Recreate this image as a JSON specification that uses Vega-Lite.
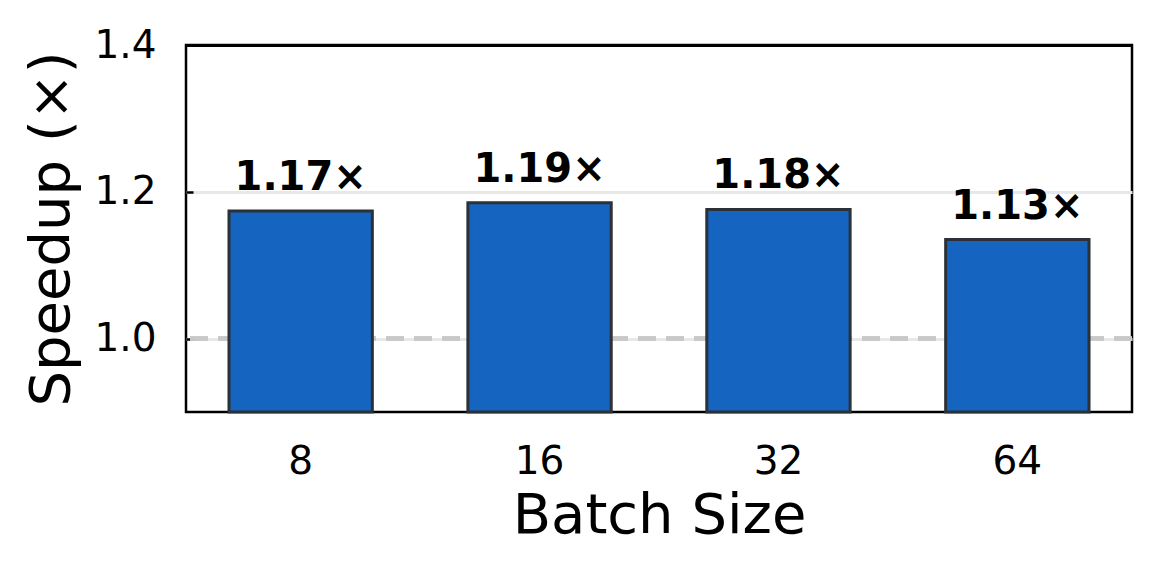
{
  "$schema": "https://vega.github.io/schema/vega-lite/v6.json",
  "width": 946,
  "height": 367,
  "autosize": "none",
  "padding": {"left": 186, "top": 45, "right": 29, "bottom": 163},
  "background": "white",
  "config": {
    "font": "DejaVu Sans",
    "view": {"stroke": "#000000", "strokeWidth": 2.5}
  },
  "data": {
    "values": [
      {"batch": "8", "speedup": 1.174, "label": "1.17×"},
      {"batch": "16", "speedup": 1.185, "label": "1.19×"},
      {"batch": "32", "speedup": 1.176, "label": "1.18×"},
      {"batch": "64", "speedup": 1.135, "label": "1.13×"}
    ]
  },
  "encoding": {
    "x": {
      "field": "batch",
      "type": "nominal",
      "sort": null,
      "scale": {"paddingInner": 0.4, "paddingOuter": 0.18},
      "axis": {
        "title": "Batch Size",
        "titleFontSize": 56,
        "titleFontWeight": "normal",
        "titleColor": "#000",
        "titlePadding": 7,
        "labelAngle": 0,
        "labelFontSize": 39,
        "labelColor": "#000",
        "labelPadding": 30,
        "ticks": false,
        "domain": false
      }
    }
  },
  "layer": [
    {
      "mark": {"type": "rule", "color": "#c8c8c8", "strokeWidth": 4, "strokeDash": [18, 10]},
      "encoding": {
        "x": null,
        "y": {"datum": 1.0, "type": "quantitative"}
      }
    },
    {
      "mark": {"type": "bar", "fill": "#1565c0", "stroke": "#2b3136", "strokeWidth": 3},
      "encoding": {
        "y": {
          "field": "speedup",
          "type": "quantitative",
          "scale": {"domain": [0.9, 1.4], "zero": false},
          "axis": {
            "title": "Speedup (×)",
            "titleFontSize": 56,
            "titleFontWeight": "normal",
            "titleColor": "#000",
            "titlePadding": 13,
            "values": [1.0, 1.2, 1.4],
            "format": ".1f",
            "labelFontSize": 39,
            "labelColor": "#000",
            "labelPadding": 37,
            "tickSize": -7,
            "tickColor": "#000",
            "tickWidth": 2.5,
            "domain": false,
            "grid": true,
            "gridColor": {"condition": {"test": "datum.value >= 1.39", "value": "#000000"}, "value": "#e8e8e8"},
            "gridWidth": 3
          }
        },
        "y2": {"datum": 0.9}
      }
    },
    {
      "mark": {"type": "text", "fontSize": 40, "fontWeight": "bold", "baseline": "alphabetic", "dy": -21, "color": "#000"},
      "encoding": {
        "y": {"field": "speedup", "type": "quantitative"},
        "text": {"field": "label"}
      }
    }
  ]
}
